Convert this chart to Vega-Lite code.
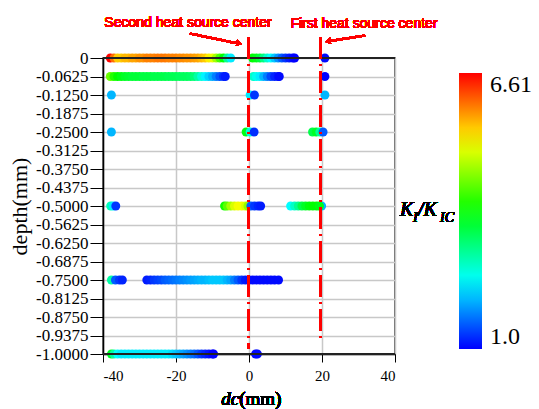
{
  "$schema": "https://vega.github.io/schema/vega-lite/v6.json",
  "width": 292,
  "height": 296,
  "autosize": {"type": "none"},
  "padding": {"left": 103, "top": 58, "right": 144, "bottom": 55},
  "background": "white",
  "resolve": {"axis": {"x": "independent", "y": "independent"}},
  "config": {
    "view": {"stroke": "#333333", "strokeWidth": 1.5},
    "axis": {"gridColor": "#c8c8c8", "gridWidth": 1.5, "domainColor": "#000000", "tickColor": "#000000", "labelColor": "#000000", "labelFont": "Liberation Serif", "titleFont": "Liberation Serif", "titleColor": "#000000", "titleFontWeight": "normal"},
    "text": {"fontWeight": "normal"}
  },
  "data": {"values": [
    {"x": -38, "d": 0, "k": 6.6}, {"x": -37, "d": 0, "k": 6.0}, {"x": -36, "d": 0, "k": 5.5}, {"x": -35, "d": 0, "k": 5.5}, {"x": -34, "d": 0, "k": 5.6}, {"x": -33, "d": 0, "k": 5.6}, {"x": -32, "d": 0, "k": 5.7}, {"x": -31, "d": 0, "k": 5.7}, {"x": -30, "d": 0, "k": 5.8}, {"x": -29, "d": 0, "k": 5.8}, {"x": -28, "d": 0, "k": 5.9}, {"x": -27, "d": 0, "k": 5.9}, {"x": -26, "d": 0, "k": 5.9}, {"x": -25, "d": 0, "k": 5.95}, {"x": -24, "d": 0, "k": 5.95}, {"x": -23, "d": 0, "k": 5.95}, {"x": -22, "d": 0, "k": 5.9}, {"x": -21, "d": 0, "k": 5.9}, {"x": -20, "d": 0, "k": 5.9}, {"x": -19, "d": 0, "k": 5.85}, {"x": -18, "d": 0, "k": 5.85}, {"x": -17, "d": 0, "k": 5.8}, {"x": -16, "d": 0, "k": 5.8}, {"x": -15, "d": 0, "k": 5.75}, {"x": -14, "d": 0, "k": 5.7}, {"x": -13, "d": 0, "k": 5.6}, {"x": -12, "d": 0, "k": 5.5}, {"x": -11, "d": 0, "k": 5.3}, {"x": -10, "d": 0, "k": 5.1}, {"x": -9, "d": 0, "k": 4.7}, {"x": -8, "d": 0, "k": 4.2}, {"x": -7, "d": 0, "k": 3.8}, {"x": -6, "d": 0, "k": 3.0}, {"x": -5, "d": 0, "k": 2.3},
    {"x": 1, "d": 0, "k": 3.8}, {"x": 2, "d": 0, "k": 3.7}, {"x": 3, "d": 0, "k": 3.5}, {"x": 4, "d": 0, "k": 3.1}, {"x": 5, "d": 0, "k": 2.7}, {"x": 6, "d": 0, "k": 2.4}, {"x": 7, "d": 0, "k": 2.1}, {"x": 8, "d": 0, "k": 1.8}, {"x": 9, "d": 0, "k": 1.5}, {"x": 10, "d": 0, "k": 1.3}, {"x": 11, "d": 0, "k": 1.15}, {"x": 12, "d": 0, "k": 1.05}, {"x": 12.5, "d": 0, "k": 1.0},
    {"x": 20.8, "d": 0, "k": 1.05},
    {"x": -38, "d": -0.0625, "k": 4.4}, {"x": -37, "d": -0.0625, "k": 4.0}, {"x": -36, "d": -0.0625, "k": 3.8}, {"x": -35, "d": -0.0625, "k": 3.7}, {"x": -34, "d": -0.0625, "k": 3.6}, {"x": -33, "d": -0.0625, "k": 3.55}, {"x": -32, "d": -0.0625, "k": 3.5}, {"x": -31, "d": -0.0625, "k": 3.5}, {"x": -30, "d": -0.0625, "k": 3.5}, {"x": -29, "d": -0.0625, "k": 3.45}, {"x": -28, "d": -0.0625, "k": 3.45}, {"x": -27, "d": -0.0625, "k": 3.45}, {"x": -26, "d": -0.0625, "k": 3.4}, {"x": -25, "d": -0.0625, "k": 3.4}, {"x": -24, "d": -0.0625, "k": 3.4}, {"x": -23, "d": -0.0625, "k": 3.4}, {"x": -22, "d": -0.0625, "k": 3.35}, {"x": -21, "d": -0.0625, "k": 3.35}, {"x": -20, "d": -0.0625, "k": 3.35}, {"x": -19, "d": -0.0625, "k": 3.3}, {"x": -18, "d": -0.0625, "k": 3.3}, {"x": -17, "d": -0.0625, "k": 3.3}, {"x": -16, "d": -0.0625, "k": 3.25}, {"x": -15, "d": -0.0625, "k": 3.15}, {"x": -14, "d": -0.0625, "k": 2.9}, {"x": -13, "d": -0.0625, "k": 2.6}, {"x": -12, "d": -0.0625, "k": 2.35}, {"x": -11, "d": -0.0625, "k": 2.15}, {"x": -10, "d": -0.0625, "k": 1.95}, {"x": -9, "d": -0.0625, "k": 1.7}, {"x": -8, "d": -0.0625, "k": 1.45}, {"x": -7, "d": -0.0625, "k": 1.25}, {"x": -6.5, "d": -0.0625, "k": 1.15},
    {"x": 1.2, "d": -0.0625, "k": 2.7}, {"x": 2, "d": -0.0625, "k": 2.5}, {"x": 3, "d": -0.0625, "k": 2.3}, {"x": 4, "d": -0.0625, "k": 2.0}, {"x": 5, "d": -0.0625, "k": 1.7}, {"x": 6, "d": -0.0625, "k": 1.4}, {"x": 7, "d": -0.0625, "k": 1.2}, {"x": 8, "d": -0.0625, "k": 1.1}, {"x": 8.3, "d": -0.0625, "k": 1.05},
    {"x": 20.8, "d": -0.0625, "k": 1.0},
    {"x": -37.7, "d": -0.125, "k": 2.0}, {"x": 0.3, "d": -0.125, "k": 2.3}, {"x": 1.5, "d": -0.125, "k": 1.3}, {"x": 20.8, "d": -0.125, "k": 2.0},
    {"x": -37.7, "d": -0.25, "k": 2.0}, {"x": -0.8, "d": -0.25, "k": 3.7}, {"x": 0.3, "d": -0.25, "k": 2.6}, {"x": 1.4, "d": -0.25, "k": 1.25}, {"x": 17.4, "d": -0.25, "k": 3.4}, {"x": 18.4, "d": -0.25, "k": 3.6}, {"x": 19.4, "d": -0.25, "k": 3.0}, {"x": 20.3, "d": -0.25, "k": 1.5},
    {"x": -37.9, "d": -0.5, "k": 2.8}, {"x": -37.2, "d": -0.5, "k": 2.3}, {"x": -36.5, "d": -0.5, "k": 1.3},
    {"x": -6.7, "d": -0.5, "k": 3.9}, {"x": -6, "d": -0.5, "k": 4.3}, {"x": -5, "d": -0.5, "k": 4.7}, {"x": -4, "d": -0.5, "k": 5.0}, {"x": -3, "d": -0.5, "k": 5.15}, {"x": -2, "d": -0.5, "k": 5.15}, {"x": -1, "d": -0.5, "k": 5.0}, {"x": -0.3, "d": -0.5, "k": 4.6}, {"x": 0.5, "d": -0.5, "k": 1.5}, {"x": 1.5, "d": -0.5, "k": 1.3}, {"x": 2.5, "d": -0.5, "k": 1.2}, {"x": 3.2, "d": -0.5, "k": 1.15},
    {"x": 19.9, "d": -0.5, "k": 2.0}, {"x": 11.4, "d": -0.5, "k": 2.4}, {"x": 12.5, "d": -0.5, "k": 2.7}, {"x": 13.5, "d": -0.5, "k": 3.0}, {"x": 14.5, "d": -0.5, "k": 3.4}, {"x": 15.5, "d": -0.5, "k": 3.6}, {"x": 16.5, "d": -0.5, "k": 3.75}, {"x": 17.5, "d": -0.5, "k": 3.8}, {"x": 18.5, "d": -0.5, "k": 3.8}, {"x": 19.3, "d": -0.5, "k": 3.7},
    {"x": -37.7, "d": -0.75, "k": 2.9}, {"x": -36.6, "d": -0.75, "k": 1.5}, {"x": -35.5, "d": -0.75, "k": 1.3}, {"x": -34.7, "d": -0.75, "k": 1.2},
    {"x": -28, "d": -0.75, "k": 1.15}, {"x": -27, "d": -0.75, "k": 1.2}, {"x": -26, "d": -0.75, "k": 1.3}, {"x": -25, "d": -0.75, "k": 1.35}, {"x": -24, "d": -0.75, "k": 1.4}, {"x": -23, "d": -0.75, "k": 1.5}, {"x": -22, "d": -0.75, "k": 1.55}, {"x": -21, "d": -0.75, "k": 1.6}, {"x": -20, "d": -0.75, "k": 1.65}, {"x": -19, "d": -0.75, "k": 1.7}, {"x": -18, "d": -0.75, "k": 1.75}, {"x": -17, "d": -0.75, "k": 1.8}, {"x": -16, "d": -0.75, "k": 1.85}, {"x": -15, "d": -0.75, "k": 1.9}, {"x": -14, "d": -0.75, "k": 1.95}, {"x": -13, "d": -0.75, "k": 2.0}, {"x": -12, "d": -0.75, "k": 2.0}, {"x": -11, "d": -0.75, "k": 2.05}, {"x": -10, "d": -0.75, "k": 2.1}, {"x": -9, "d": -0.75, "k": 2.1}, {"x": -8, "d": -0.75, "k": 2.1}, {"x": -7, "d": -0.75, "k": 2.1}, {"x": -6, "d": -0.75, "k": 2.0}, {"x": -5, "d": -0.75, "k": 1.9}, {"x": -4, "d": -0.75, "k": 1.7}, {"x": -3, "d": -0.75, "k": 1.5}, {"x": -2, "d": -0.75, "k": 1.3}, {"x": -1, "d": -0.75, "k": 1.15}, {"x": 0, "d": -0.75, "k": 1.1}, {"x": 1, "d": -0.75, "k": 1.05}, {"x": 2, "d": -0.75, "k": 1.05}, {"x": 3, "d": -0.75, "k": 1.05}, {"x": 4, "d": -0.75, "k": 1.05}, {"x": 5, "d": -0.75, "k": 1.05}, {"x": 6, "d": -0.75, "k": 1.05}, {"x": 7, "d": -0.75, "k": 1.05}, {"x": 8.1, "d": -0.75, "k": 1.05},
    {"x": -37.7, "d": -1, "k": 3.6}, {"x": -37, "d": -1, "k": 2.9}, {"x": -36, "d": -1, "k": 2.4}, {"x": -35, "d": -1, "k": 2.3}, {"x": -34, "d": -1, "k": 2.3}, {"x": -33, "d": -1, "k": 2.3}, {"x": -32, "d": -1, "k": 2.3}, {"x": -31, "d": -1, "k": 2.3}, {"x": -30, "d": -1, "k": 2.3}, {"x": -29, "d": -1, "k": 2.3}, {"x": -28, "d": -1, "k": 2.3}, {"x": -27, "d": -1, "k": 2.3}, {"x": -26, "d": -1, "k": 2.3}, {"x": -25, "d": -1, "k": 2.3}, {"x": -24, "d": -1, "k": 2.3}, {"x": -23, "d": -1, "k": 2.3}, {"x": -22, "d": -1, "k": 2.3}, {"x": -21, "d": -1, "k": 2.2}, {"x": -20, "d": -1, "k": 2.1}, {"x": -19, "d": -1, "k": 2.0}, {"x": -18, "d": -1, "k": 1.9}, {"x": -17, "d": -1, "k": 1.8}, {"x": -16, "d": -1, "k": 1.7}, {"x": -15, "d": -1, "k": 1.6}, {"x": -14, "d": -1, "k": 1.45}, {"x": -13, "d": -1, "k": 1.3}, {"x": -12, "d": -1, "k": 1.2}, {"x": -11, "d": -1, "k": 1.1}, {"x": -10, "d": -1, "k": 1.0}, {"x": -9.7, "d": -1, "k": 1.0},
    {"x": 1.8, "d": -1, "k": 1.05}, {"x": 2.3, "d": -1, "k": 1.05}
  ]},
  "layer": [
    {
      "mark": {"type": "circle", "size": 80, "opacity": 1},
      "encoding": {
        "x": {"field": "x", "type": "quantitative", "scale": {"domain": [-40, 40], "nice": false, "zero": false},
          "axis": {"values": [-40, -20, 0, 20, 40], "grid": true, "labelOverlap": false, "labelFont": "Liberation Serif", "labelExpr": "datum.value < 0 ? '-' + format(-datum.value, 'd') : format(datum.value, 'd')", "labelFontSize": 15, "tickSize": 8, "labelPadding": 6, "title": null, "domainWidth": 1.5}},
        "y": {"field": "d", "type": "quantitative", "scale": {"domain": [-1, 0], "nice": false, "zero": false},
          "axis": {"values": [0, -0.0625, -0.125, -0.1875, -0.25, -0.3125, -0.375, -0.4375, -0.5, -0.5625, -0.625, -0.6875, -0.75, -0.8125, -0.875, -0.9375, -1], "grid": true, "labelOverlap": false, "labelFont": "Liberation Serif", "labelExpr": "datum.value == 0 ? '0' : '-' + format(-datum.value, '.4f')", "labelFontSize": 17, "tickSize": 13, "labelPadding": 2, "title": "depth(mm)", "titleFont": "Liberation Serif", "titleFontSize": 22, "titlePadding": 4, "domainWidth": 1.5}},
        "color": {"field": "k", "type": "quantitative",
          "scale": {"domain": [1, 2.4025, 3.805, 5.2075, 6.61], "range": ["#0000ff", "#00ffff", "#00ff00", "#ffff00", "#ff0000"], "interpolate": "rgb"},
          "legend": {"orient": "none", "legendX": 356, "legendY": 15, "direction": "vertical", "gradientLength": 276, "gradientThickness": 23, "gradientStrokeWidth": 0, "title": null, "values": [1, 6.61], "labelExpr": "datum.value < 2 ? '1.0' : '6.61'", "labelFont": "Liberation Serif", "labelFontSize": 24, "labelColor": "#000000", "labelOffset": 8, "labelBaseline": "middle", "padding": 0}}
      }
    },
    {
      "mark": {"type": "rule", "color": "#222222", "strokeWidth": 2},
      "encoding": {"y": {"datum": 0, "type": "quantitative", "axis": null, "scale": {"domain": [-1, 0], "nice": false, "zero": false}}}
    },
    {
      "mark": {"type": "rule", "color": "#222222", "strokeWidth": 2},
      "encoding": {"y": {"datum": -1, "type": "quantitative", "axis": null, "scale": {"domain": [-1, 0], "nice": false, "zero": false}}}
    },
    {
      "mark": {"type": "rule", "color": "#ff0000", "strokeWidth": 2.5, "strokeDash": [22, 5, 2, 5]},
      "encoding": {
        "x": {"datum": -0.2, "type": "quantitative", "axis": null, "scale": {"domain": [-40, 40], "nice": false, "zero": false}},
        "y": {"datum": 0.071, "type": "quantitative", "axis": null, "scale": {"domain": [-1, 0], "nice": false, "zero": false}},
        "y2": {"datum": -0.983}
      }
    },
    {
      "mark": {"type": "rule", "color": "#ff0000", "strokeWidth": 2.2, "strokeDash": [22, 5, 2, 5]},
      "encoding": {
        "x": {"datum": 19.5, "type": "quantitative", "axis": null, "scale": {"domain": [-40, 40], "nice": false, "zero": false}},
        "y": {"datum": 0.071, "type": "quantitative", "axis": null, "scale": {"domain": [-1, 0], "nice": false, "zero": false}},
        "y2": {"datum": -0.963}
      }
    },
    {
      "mark": {"type": "rule", "color": "#ff0000", "strokeWidth": 2},
      "encoding": {
        "x": {"datum": -16.2, "type": "quantitative", "axis": null, "scale": {"domain": [-40, 40], "nice": false, "zero": false}},
        "y": {"datum": 0.083, "type": "quantitative", "axis": null, "scale": {"domain": [-1, 0], "nice": false, "zero": false}},
        "x2": {"datum": -3.0},
        "y2": {"datum": 0.049}
      }
    },
    {
      "mark": {"type": "point", "shape": "triangle-right", "filled": true, "color": "#ff0000", "size": 40, "angle": 11.7, "opacity": 1},
      "encoding": {
        "x": {"datum": -2.7, "type": "quantitative", "axis": null, "scale": {"domain": [-40, 40], "nice": false, "zero": false}},
        "y": {"datum": 0.049, "type": "quantitative", "axis": null, "scale": {"domain": [-1, 0], "nice": false, "zero": false}}
      }
    },
    {
      "mark": {"type": "rule", "color": "#ff0000", "strokeWidth": 2},
      "encoding": {
        "x": {"datum": 31.8, "type": "quantitative", "axis": null, "scale": {"domain": [-40, 40], "nice": false, "zero": false}},
        "y": {"datum": 0.076, "type": "quantitative", "axis": null, "scale": {"domain": [-1, 0], "nice": false, "zero": false}},
        "x2": {"datum": 21.3},
        "y2": {"datum": 0.056}
      }
    },
    {
      "mark": {"type": "point", "shape": "triangle-left", "filled": true, "color": "#ff0000", "size": 40, "angle": -9.4, "opacity": 1},
      "encoding": {
        "x": {"datum": 21.6, "type": "quantitative", "axis": null, "scale": {"domain": [-40, 40], "nice": false, "zero": false}},
        "y": {"datum": 0.056, "type": "quantitative", "axis": null, "scale": {"domain": [-1, 0], "nice": false, "zero": false}}
      }
    },
    {
      "mark": {"type": "text", "text": "Second heat source center", "color": "#ff0000", "font": "Liberation Sans", "fontWeight": "normal", "fontSize": 14, "align": "center", "baseline": "alphabetic"},
      "encoding": {
        "x": {"datum": -16.7, "type": "quantitative", "axis": null, "scale": {"domain": [-40, 40], "nice": false, "zero": false}},
        "y": {"datum": 0.105, "type": "quantitative", "axis": null, "scale": {"domain": [-1, 0], "nice": false, "zero": false}}
      }
    },
    {
      "mark": {"type": "text", "text": "First heat source center", "color": "#ff0000", "font": "Liberation Sans", "fontWeight": "normal", "fontSize": 14, "align": "center", "baseline": "alphabetic"},
      "encoding": {
        "x": {"datum": 31.5, "type": "quantitative", "axis": null, "scale": {"domain": [-40, 40], "nice": false, "zero": false}},
        "y": {"datum": 0.101, "type": "quantitative", "axis": null, "scale": {"domain": [-1, 0], "nice": false, "zero": false}}
      }
    },
    {
      "mark": {"type": "text", "text": "dc", "color": "#000000", "font": "Liberation Serif", "fontWeight": "normal", "fontStyle": "italic", "fontSize": 19, "align": "right", "baseline": "alphabetic"},
      "encoding": {
        "x": {"datum": -2.7, "type": "quantitative", "axis": null, "scale": {"domain": [-40, 40], "nice": false, "zero": false}},
        "y": {"datum": -1.172, "type": "quantitative", "axis": null, "scale": {"domain": [-1, 0], "nice": false, "zero": false}}
      }
    },
    {
      "mark": {"type": "text", "text": "(mm)", "color": "#000000", "font": "Liberation Serif", "fontWeight": "normal", "fontSize": 19, "align": "left", "baseline": "alphabetic"},
      "encoding": {
        "x": {"datum": -2.7, "type": "quantitative", "axis": null, "scale": {"domain": [-40, 40], "nice": false, "zero": false}},
        "y": {"datum": -1.172, "type": "quantitative", "axis": null, "scale": {"domain": [-1, 0], "nice": false, "zero": false}}
      }
    },
    {
      "mark": {"type": "text", "text": "K", "color": "#000000", "font": "Liberation Serif", "fontWeight": "normal", "fontStyle": "italic", "fontSize": 20, "align": "left", "baseline": "alphabetic"},
      "encoding": {
        "x": {"datum": 41.37, "type": "quantitative", "axis": null, "scale": {"domain": [-40, 40], "nice": false, "zero": false}},
        "y": {"datum": -0.5338, "type": "quantitative", "axis": null, "scale": {"domain": [-1, 0], "nice": false, "zero": false}}
      }
    },
    {
      "mark": {"type": "text", "text": "I", "color": "#000000", "font": "Liberation Serif", "fontWeight": "normal", "fontStyle": "italic", "fontSize": 14, "align": "left", "baseline": "alphabetic"},
      "encoding": {
        "x": {"datum": 44.93, "type": "quantitative", "axis": null, "scale": {"domain": [-40, 40], "nice": false, "zero": false}},
        "y": {"datum": -0.5541, "type": "quantitative", "axis": null, "scale": {"domain": [-1, 0], "nice": false, "zero": false}}
      }
    },
    {
      "mark": {"type": "text", "text": "/K", "color": "#000000", "font": "Liberation Serif", "fontWeight": "normal", "fontStyle": "italic", "fontSize": 20, "align": "left", "baseline": "alphabetic"},
      "encoding": {
        "x": {"datum": 46.3, "type": "quantitative", "axis": null, "scale": {"domain": [-40, 40], "nice": false, "zero": false}},
        "y": {"datum": -0.5338, "type": "quantitative", "axis": null, "scale": {"domain": [-1, 0], "nice": false, "zero": false}}
      }
    },
    {
      "mark": {"type": "text", "text": "IC", "color": "#000000", "font": "Liberation Serif", "fontWeight": "normal", "fontStyle": "italic", "fontSize": 14, "align": "left", "baseline": "alphabetic"},
      "encoding": {
        "x": {"datum": 52.33, "type": "quantitative", "axis": null, "scale": {"domain": [-40, 40], "nice": false, "zero": false}},
        "y": {"datum": -0.5541, "type": "quantitative", "axis": null, "scale": {"domain": [-1, 0], "nice": false, "zero": false}}
      }
    }
  ]
}
